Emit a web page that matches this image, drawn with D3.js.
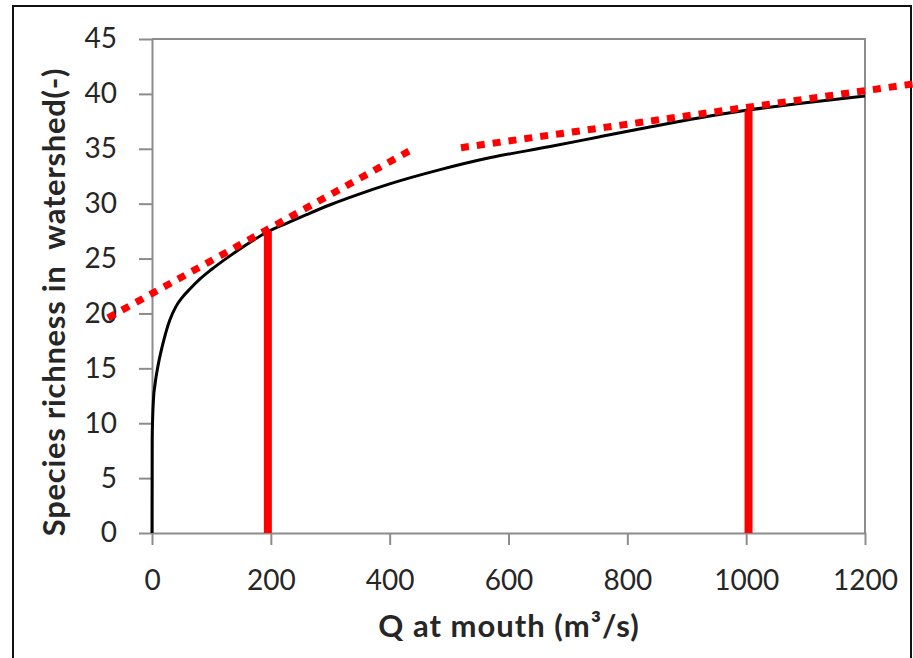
<!DOCTYPE html>
<html>
<head>
<meta charset="utf-8">
<script src="https://cdn.jsdelivr.net/npm/d3@7"></script>
<style>
  body { margin: 0; background: #fff; }
  svg { display: block; }
  text { font-family: Lato, "Open Sans", sans-serif; fill: #262626; }
</style>
</head>
<body>
<svg width="913" height="658"></svg>
<script>
// data
const discharge = [0, 0.3, 1, 2.5, 5, 10, 15, 20, 30, 40, 50, 65, 80, 100, 130, 160, 193, 230, 260, 300,
  345, 400, 485, 570, 670, 754, 840, 920, 1000, 1100, 1200];
const richness = [0, 8.5, 10.3, 12.2, 13.5, 15.2, 16.5, 17.6, 19.4, 20.6, 21.4, 22.3, 23.1, 24.0, 25.2, 26.3, 27.4, 28.3, 29.0, 29.9,
  30.8, 31.8, 33.1, 34.2, 35.2, 36.1, 37.0, 37.8, 38.5, 39.2, 39.8];

// dotted tangents (end points)
const tangentLow  = [[-74, 19.6], [433, 34.8]];
const tangentHigh = [[520, 35.1], [1280, 40.9]];

// vertical markers: discharge and the richness where they meet the curve
const markerQ = [195, 1004];
const markerS = [27.5, 38.5];

const xTicks = [0, 200, 400, 600, 800, 1000, 1200];
const yTicks = [0, 5, 10, 15, 20, 25, 30, 35, 40, 45];

const AXIS_COLOR = "#8c8c8c";
const RED = "#ff0000";

let svg = d3.select("svg");
const plot = { left: 152, top: 39, right: 865, bottom: 533 };

let x = d3.scaleLinear().domain([0, 1200]).range([plot.left, plot.right]);
let y = d3.scaleLinear().domain([0, 45]).range([plot.bottom, plot.top]);

// outer frame (bottom edge runs off the picture)
svg.append("rect")
  .attr("x", 13).attr("y", 6)
  .attr("width", 898).attr("height", 700)
  .attr("fill", "none")
  .attr("stroke", "#111")
  .attr("stroke-width", 2);

// plot box top / right edges
svg.append("path")
  .attr("d", `M${plot.left},${plot.top}H${plot.right}V${plot.bottom}`)
  .attr("fill", "none")
  .attr("stroke", AXIS_COLOR)
  .attr("stroke-width", 2);

// axes
let yAxis = svg.append("g")
  .attr("transform", `translate(${plot.left},0)`)
  .call(d3.axisLeft(y).tickValues(yTicks).tickFormat(d3.format("d"))
    .tickSize(13).tickSizeOuter(0).tickPadding(22));

let xAxis = svg.append("g")
  .attr("transform", `translate(0,${plot.bottom})`)
  .call(d3.axisBottom(x).tickValues(xTicks).tickFormat(d3.format("d"))
    .tickSize(12).tickSizeOuter(0).tickPadding(25));

[xAxis, yAxis].forEach((g) => {
  g.select(".domain").attr("stroke", AXIS_COLOR).attr("stroke-width", 2);
  g.selectAll(".tick line").attr("stroke", AXIS_COLOR).attr("stroke-width", 2);
  g.selectAll(".tick text")
    .attr("font-size", 28)
    .attr("font-family", "Lato, 'Open Sans', sans-serif")
    .attr("fill", "#262626");
});

// the richness curve
const pts = discharge.map((q, i) => [q, richness[i]]);
svg.append("path")
  .datum(pts)
  .attr("fill", "none")
  .attr("stroke", "#000")
  .attr("stroke-width", 3)
  .attr("stroke-linejoin", "round")
  .attr("d", d3.line()
    .x((d) => x(d[0]))
    .y((d) => y(d[1]))
    .curve(d3.curveMonotoneX));

// red vertical markers
svg.selectAll(".marker")
  .data(markerQ)
  .enter()
  .append("line")
  .attr("class", "marker")
  .attr("x1", (d) => x(d))
  .attr("x2", (d) => x(d))
  .attr("y1", y(0))
  .attr("y2", (d, i) => y(markerS[i]))
  .attr("stroke", RED)
  .attr("stroke-width", 8);

// dotted tangents
svg.selectAll(".tangent")
  .data([tangentLow, tangentHigh])
  .enter()
  .append("line")
  .attr("class", "tangent")
  .attr("x1", (d) => x(d[0][0]))
  .attr("y1", (d) => y(d[0][1]))
  .attr("x2", (d) => x(d[1][0]))
  .attr("y2", (d) => y(d[1][1]))
  .attr("stroke", RED)
  .attr("stroke-width", 7)
  .attr("stroke-dasharray", "8 8");

// axis titles
svg.append("text")
  .attr("transform", "translate(65,302) rotate(-90)")
  .attr("text-anchor", "middle")
  .attr("font-size", 31)
  .attr("font-weight", "bold")
  .attr("letter-spacing", 0.7)
  .attr("xml:space", "preserve")
  .text("Species richness in  watershed(-)");

svg.append("text")
  .attr("x", 509)
  .attr("y", 637)
  .attr("text-anchor", "middle")
  .attr("font-size", 31)
  .attr("font-weight", "bold")
  .attr("letter-spacing", 1)
  .text("Q at mouth (m³/s)");
</script>
</body>
</html>
